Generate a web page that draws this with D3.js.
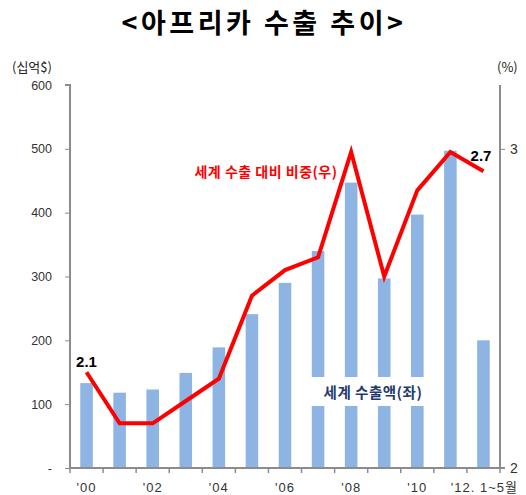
<!DOCTYPE html>
<html>
<head>
<meta charset="utf-8">
<script src="https://cdn.jsdelivr.net/npm/d3@7"></script>
<style>
body{margin:0;background:#fff;font-family:"Noto Sans CJK KR","Noto Sans",sans-serif;}
.axis path,.axis line{stroke:#8c8c8c;}
.axis text{fill:#333;font-size:12.5px;font-family:"Liberation Sans","Noto Sans CJK KR",sans-serif;}
</style>
</head>
<body>
<script>
var years=["'00","'01","'02","'03","'04","'05","'06","'07","'08","'09","'10","'11","'12. 1~5월"];
var exportVal=[133,118,123,149,189,241,290,340,447,297,397,497,200];
var shareVal=[2.30,2.14,2.14,2.21,2.28,2.54,2.62,2.66,2.99,2.60,2.87,2.99,2.93];
var leftTicks=[0,100,200,300,400,500,600];
var rightTicks=[2,3];
var pointLabels=[{i:0,text:"2.1"},{i:12,text:"2.7"}];

var width=526,height=495;
var margin={top:85,right:26,bottom:27,left:70};

var svg=d3.select("body").append("svg")
  .attr("width",width)
  .attr("height",height);

// title
svg.append("text")
  .attr("x",264).attr("y",33)
  .attr("text-anchor","middle")
  .style("font-size","27px")
  .style("font-weight","bold")
  .style("letter-spacing","3.5px")
  .style("font-family","'Noto Sans CJK KR',sans-serif")
  .text("<아프리카 수출 추이>");

var x=d3.scaleBand()
  .domain(years)
  .range([margin.left,width-margin.right])
  .paddingInner(0.62)
  .paddingOuter(0.31);

var yL=d3.scaleLinear().domain([0,600]).range([height-margin.bottom,margin.top]);
var yR=d3.scaleLinear().domain([2,3.2]).range([height-margin.bottom,margin.top]);

// bars
svg.selectAll(".bar")
  .data(exportVal)
.enter().append("rect")
  .attr("class","bar")
  .attr("x",function(d,i){return x(years[i]);})
  .attr("width",x.bandwidth())
  .attr("y",function(d){return yL(d);})
  .attr("height",function(d){return yL(0)-yL(d);})
  .attr("fill","#8EB4E3");

// white box behind bar legend text
svg.append("rect")
  .attr("x",x(years[7])-4).attr("y",377)
  .attr("width",x(years[10])+x.bandwidth()-x(years[7])+8)
  .attr("height",29)
  .attr("fill","#fff");
svg.append("text")
  .attr("x",373).attr("y",398)
  .attr("text-anchor","middle")
  .style("font-size","14.5px")
  .style("font-weight","bold")
  .style("letter-spacing","0.5px")
  .style("fill","#1F3B6E")
  .text("세계 수출액(좌)");

// axes
var bandStep=x.step();
var xAxisG=svg.append("g").attr("class","axis")
  .attr("transform","translate(0,"+(height-margin.bottom)+")");
xAxisG.append("line")
  .attr("x1",margin.left).attr("x2",width-margin.right+5)
  .attr("stroke-width",2);
xAxisG.selectAll(".tk")
  .data(d3.range(years.length+1))
.enter().append("line")
  .attr("class","tk")
  .attr("x1",function(i){return margin.left+i*bandStep;})
  .attr("x2",function(i){return margin.left+i*bandStep;})
  .attr("y1",0).attr("y2",5)
  .attr("stroke-width",1.5);
xAxisG.selectAll(".lab")
  .data(years.filter(function(d,i){return i%2==0;}))
.enter().append("text")
  .attr("class","lab")
  .attr("x",function(d){return x(d)+x.bandwidth()/2+(d.length>4?1:0);})
  .attr("y",24)
  .attr("text-anchor","middle")
  .style("font-size","13px")
  .style("letter-spacing","1px")
  .text(function(d){return d;});

var leftAxis=d3.axisLeft(yL).tickValues(leftTicks).tickSize(5).tickPadding(13)
  .tickFormat(function(d){return d==0?"-":d;});
var lg=svg.append("g").attr("class","axis")
  .attr("transform","translate("+margin.left+",0)")
  .call(leftAxis);
lg.select(".domain").attr("stroke-width",2).attr("d","M-5,"+margin.top+"H0V"+(height-margin.bottom));

var rightAxis=d3.axisRight(yR).tickValues(rightTicks).tickSize(5).tickPadding(5)
  .tickFormat(d3.format("d"));
var rg=svg.append("g").attr("class","axis")
  .attr("transform","translate("+(width-margin.right)+",0)")
  .call(rightAxis);
rg.select(".domain").attr("stroke-width",2).attr("d","M0,"+margin.top+"V"+(height-margin.bottom));
rg.selectAll("text").style("font-size","14px");

// units
svg.append("text").attr("x",12).attr("y",72)
  .style("font-size","13px").style("fill","#222").text("(십억$)");
svg.append("text").attr("x",497).attr("y",72)
  .style("font-size","13px").style("fill","#222").text("(%)");

// share line
var line=d3.line()
  .x(function(d,i){return x(years[i])+x.bandwidth()/2;})
  .y(function(d){return yR(d);});
svg.append("path")
  .datum(shareVal)
  .attr("d",line)
  .attr("fill","none")
  .attr("stroke","#FF0000")
  .attr("stroke-width",4)
  .attr("stroke-linejoin","miter");

svg.append("text")
  .attr("x",266).attr("y",177)
  .attr("text-anchor","middle")
  .style("font-size","14px")
  .style("font-weight","bold")
  .style("letter-spacing","0.5px")
  .style("fill","#FF0000")
  .text("세계 수출 대비 비중(우)");

svg.selectAll(".plab")
  .data(pointLabels)
.enter().append("text")
  .attr("class","plab")
  .attr("x",function(d){return x(years[d.i])+x.bandwidth()/2+(d.i==0?0:8);})
  .attr("y",function(d){return yR(shareVal[d.i])-(d.i==0?5:10);})
  .attr("text-anchor",function(d){return d.i==0?"middle":"end";})
  .style("font-size","15px")
  .style("font-weight","bold")
  .style("font-family","'Liberation Sans',sans-serif")
  .text(function(d){return d.text;});
</script>
</body>
</html>
